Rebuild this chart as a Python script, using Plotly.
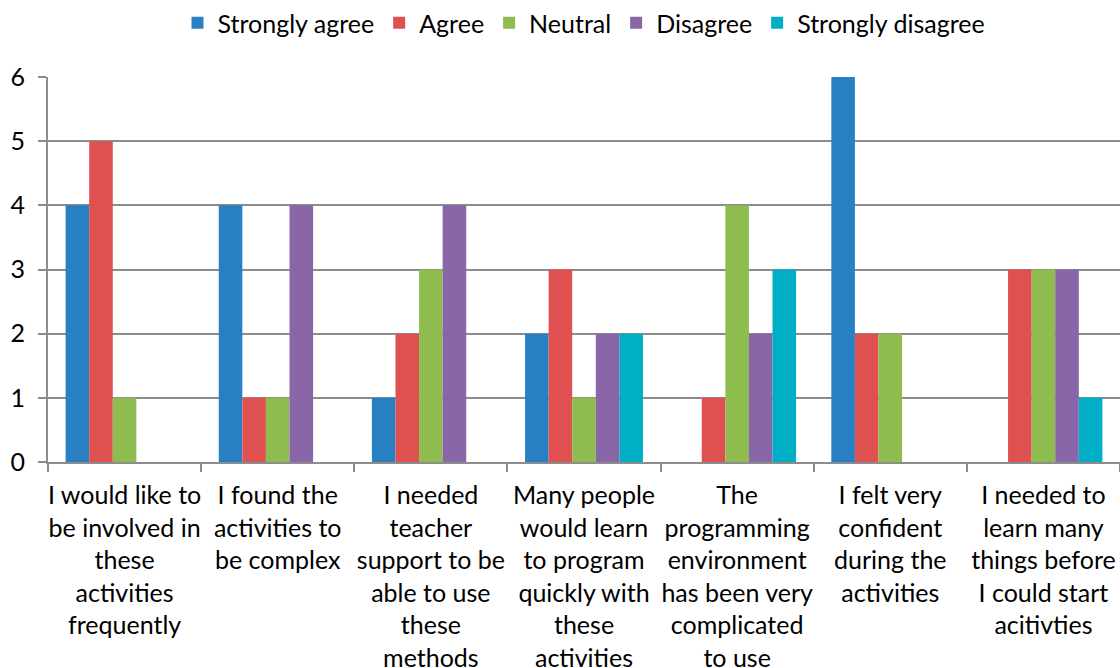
import plotly.graph_objects as go

categories = [
    "I would like to<br>be involved in<br>these<br>activities<br>frequently",
    "I found the<br>activities to<br>be complex",
    "I needed<br>teacher<br>support to be<br>able to use<br>these<br>methods",
    "Many people<br>would learn<br>to program<br>quickly with<br>these<br>activities",
    "The<br>programming<br>environment<br>has been very<br>complicated<br>to use",
    "I felt very<br>confident<br>during the<br>activities",
    "I needed to<br>learn many<br>things before<br>I could start<br>acitivties",
]
strongly_agree = [4, 4, 1, 2, 0, 6, 0]
agree = [5, 1, 2, 3, 1, 2, 3]
neutral = [1, 1, 3, 1, 4, 2, 3]
disagree = [0, 4, 4, 2, 2, 0, 3]
strongly_disagree = [0, 0, 0, 2, 3, 0, 1]

series = [
    ("Strongly agree", strongly_agree, "#2880C3"),
    ("Agree", agree, "#DF5050"),
    ("Neutral", neutral, "#8EBC4F"),
    ("Disagree", disagree, "#8966A7"),
    ("Strongly disagree", strongly_disagree, "#00AFC6"),
]

FONT = "Lato"
fig = go.Figure()
for name, vals, color in series:
    fig.add_trace(go.Bar(name=name, x=categories, y=vals, marker=dict(color=color, line=dict(width=0))))

fig.update_layout(
    width=1120, height=668,
    margin=dict(l=48, r=0, t=77, b=206),
    plot_bgcolor="white", paper_bgcolor="white",
    barmode="group", bargap=0.23, bargroupgap=0,
    font=dict(family=FONT, size=25, color="black"),
    legend=dict(orientation="h", x=0.5, xanchor="center", y=1.0, yanchor="top",
                yref="container", font=dict(size=25, family=FONT), itemwidth=30,
                traceorder="normal"),
    showlegend=True,
)
fig.update_xaxes(
    showline=True, linecolor="#8c8c8c", linewidth=2,
    ticks="outside", ticklen=8, tickcolor="#8c8c8c", tickwidth=2,
    tickson="boundaries", showgrid=False, ticklabelstandoff=10,
    tickangle=0, automargin=False,
    tickfont=dict(size=25, family=FONT),
)
fig.update_yaxes(
    range=[0, 6], dtick=1, showline=True, linecolor="#8c8c8c", linewidth=2,
    ticks="outside", ticklen=8, tickcolor="#8c8c8c", tickwidth=2,
    showgrid=True, gridcolor="#8c8c8c", gridwidth=2, zeroline=False,
    ticklabelstandoff=8, automargin=False,
    tickfont=dict(size=25, family=FONT),
)
fig.write_html("out.html")
